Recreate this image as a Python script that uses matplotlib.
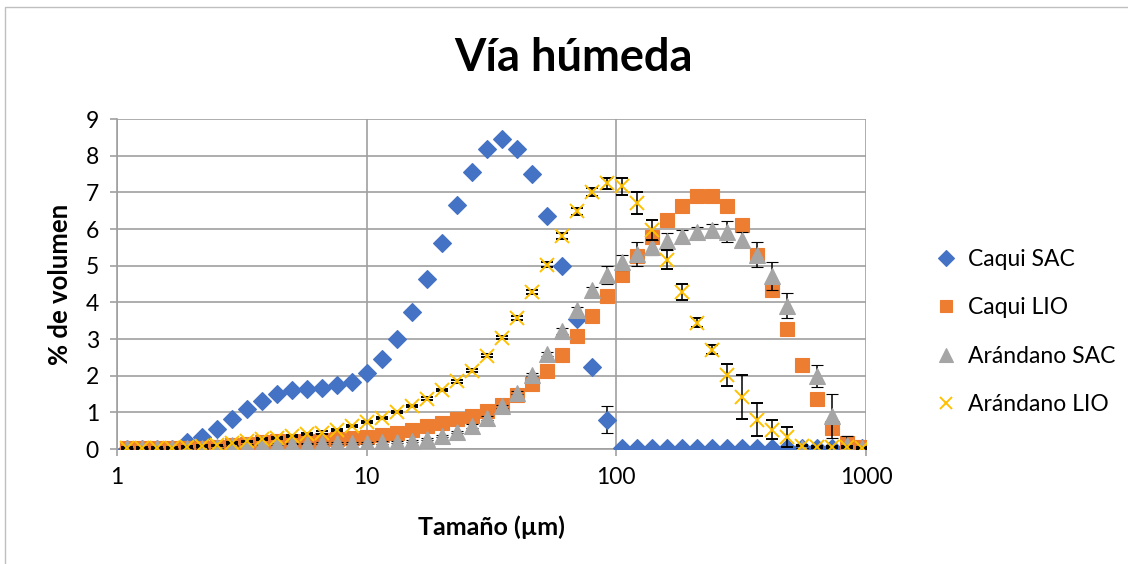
import numpy as np
import matplotlib
matplotlib.use("Agg")
import matplotlib.pyplot as plt
from matplotlib.patches import Rectangle

plt.rcParams['font.family'] = ['Lato', 'DejaVu Sans']

# tamaños de particula (um)
tamano = [1.095, 1.257, 1.444, 1.658, 1.905, 2.187, 2.512, 2.884, 3.313, 3.804,
          4.369, 5.017, 5.761, 6.616, 7.598, 8.727, 10.02, 11.51, 13.22, 15.18,
          17.43, 20.02, 22.99, 26.41, 30.33, 34.83, 40.00, 45.92, 52.74, 60.56,
          69.56, 79.88, 91.74, 105.3, 121.0, 138.9, 159.6, 183.2, 210.5, 241.7,
          277.5, 318.7, 366.1, 420.4, 482.8, 554.4, 636.7, 731.1, 839.6, 964.2]

caqui_sac = [0, 0, 0, 0, 0.18, 0.32, 0.54, 0.81, 1.08, 1.32,
             1.50, 1.60, 1.65, 1.67, 1.74, 1.84, 2.07, 2.45, 3.01, 3.74,
             4.64, 5.63, 6.65, 7.55, 8.19, 8.46, 8.19, 7.49, 6.36, 4.98,
             3.55, 2.23, 0.80, 0.03, 0.03, 0.03, 0.03, 0.03, 0.03, 0.03,
             0.03, 0.03, 0.03, 0.03, 0.03, 0.03, 0.03, 0.03, 0.03, 0.03]
caqui_sac_err = [0.02]*24 + [0.04, 0.04, 0.04, 0.04, 0.04, 0.03, 0.03, 0.05, 0.36] + [0.02]*17

caqui_lio = [0.02, 0.02, 0.02, 0.02, 0.03, 0.04, 0.05, 0.11, 0.15, 0.19,
             0.21, 0.22, 0.23, 0.24, 0.26, 0.29, 0.32, 0.38, 0.44, 0.53,
             0.63, 0.72, 0.82, 0.91, 1.05, 1.21, 1.48, 1.78, 2.14, 2.57,
             3.09, 3.62, 4.18, 4.74, 5.26, 5.78, 6.25, 6.64, 6.89, 6.91,
             6.64, 6.10, 5.30, 4.34, 3.28, 2.30, 1.36, 0.57, 0.17, 0.05]
caqui_lio_err = [0.02]*40 + [0.04, 0.05, 0.05, 0.05, 0.05, 0.05, 0.1, 0.05, 0.18, 0.03]

arandano_sac = [0.02, 0.02, 0.02, 0.02, 0.02, 0.02, 0.06, 0.10, 0.12, 0.13,
                0.14, 0.15, 0.15, 0.16, 0.16, 0.17, 0.17, 0.18, 0.19, 0.22,
                0.28, 0.36, 0.46, 0.62, 0.85, 1.16, 1.54, 2.03, 2.60, 3.21,
                3.78, 4.33, 4.75, 5.09, 5.32, 5.50, 5.66, 5.80, 5.91, 5.98,
                5.93, 5.71, 5.30, 4.71, 3.91, 0.04, 1.98, 0.90, 0.10, 0.03]
arandano_sac_err = [0.02]*13 + [0.03]*10 + [0.05]*6 + \
                   [0.08, 0.10, 0.10, 0.24, 0.20, 0.33, 0.20, 0.23, 0.18, 0.15, 0.17,
                    0.28, 0.20, 0.34, 0.38, 0.35, 0.0, 0.30, 0.60, 0.25, 0.05]

arandano_lio = [0.03, 0.03, 0.03, 0.03, 0.06, 0.08, 0.10, 0.16, 0.21, 0.27,
                0.31, 0.35, 0.40, 0.45, 0.51, 0.62, 0.73, 0.85, 1.00, 1.18,
                1.37, 1.61, 1.85, 2.14, 2.54, 3.03, 3.57, 4.28, 5.03, 5.80,
                6.48, 7.01, 7.25, 7.16, 6.71, 5.98, 5.16, 4.28, 3.45, 2.71,
                2.01, 1.41, 0.80, 0.53, 0.32, 0.09, 0.05, 0.05, 0.05, 0.03]
arandano_lio_err = [0.02]*10 + [0.03]*10 + [0.04]*6 + \
                   [0.05, 0.06, 0.07, 0.08, 0.10, 0.12, 0.15, 0.23, 0.30, 0.27, 0.26,
                    0.22, 0.12, 0.12, 0.30, 0.60, 0.45, 0.27, 0.27, 0.02, 0.02, 0.02, 0.02, 0.02]

fig = plt.figure(figsize=(11.28, 5.64), dpi=100)
ax = fig.add_axes([0.1037, 0.2039, 0.664, 0.5851])

series = [
    (caqui_sac, caqui_sac_err, 'D', '#4472C4', 9.5, 'Caqui SAC'),
    (caqui_lio, caqui_lio_err, 's', '#ED7D31', 10.5, 'Caqui LIO'),
    (arandano_sac, arandano_sac_err, '^', '#A5A5A5', 11.5, 'Arándano SAC'),
    (arandano_lio, arandano_lio_err, 'x', '#FFC000', 10.5, 'Arándano LIO'),
]
handles = []
for i, (vals, err, mk, col, ms, lab) in enumerate(series):
    eb = ax.errorbar(tamano, vals, yerr=err, fmt=mk, color=col, ms=ms,
                     mec=col, mew=1.4 if mk == 'x' else 0.8,
                     ecolor='black', elinewidth=1.1, capsize=4, capthick=1.1,
                     zorder=3 + i, label=lab)
    handles.append(eb)

ax.set_xscale('log')
ax.set_xlim(1, 1000)
ax.set_ylim(0, 9)
ax.set_yticks(range(10))
ax.set_xticks([1, 10, 100, 1000])
ax.set_xticklabels(['1', '10', '100', '1000'])
ax.minorticks_off()
ax.grid(True, color='#a0a0a0', linewidth=1.2)
ax.set_axisbelow(True)
for s in ['top', 'right']:
    ax.spines[s].set_visible(False)
for s in ['left', 'bottom']:
    ax.spines[s].set_color('#a0a0a0')
    ax.spines[s].set_linewidth(1.2)
ax.tick_params(axis='both', colors='#a0a0a0', labelcolor='black', labelsize=16.5,
               length=5, width=1.2)
ax.tick_params(axis='x', pad=8)
ax.tick_params(axis='y', pad=8)

fig.text(0.508, 0.897, 'Vía húmeda', ha='center', va='center', fontsize=32.5, fontweight='bold')
fig.text(0.4357, 0.066, 'Tamaño (µm)', ha='center', va='center', fontsize=18, fontweight='bold')
fig.text(0.053, 0.495, '% de volumen', ha='center', va='center', rotation=90,
         fontsize=18.5, fontweight='bold')

leg = fig.legend([h[0] for h in handles], [s[5] for s in series], loc='center left',
                 bbox_to_anchor=(0.81, 0.411), frameon=False, fontsize=16.5,
                 labelspacing=1.2, handlelength=1.0, handletextpad=0.45, markerscale=0.85)

fig.patches.append(Rectangle((5 / 1128, -0.01), 1.2, 1 - 7 / 564 + 0.01, transform=fig.transFigure,
                             fill=False, edgecolor='#bfbfbf', linewidth=1))

fig.savefig('out.png', dpi=100)
